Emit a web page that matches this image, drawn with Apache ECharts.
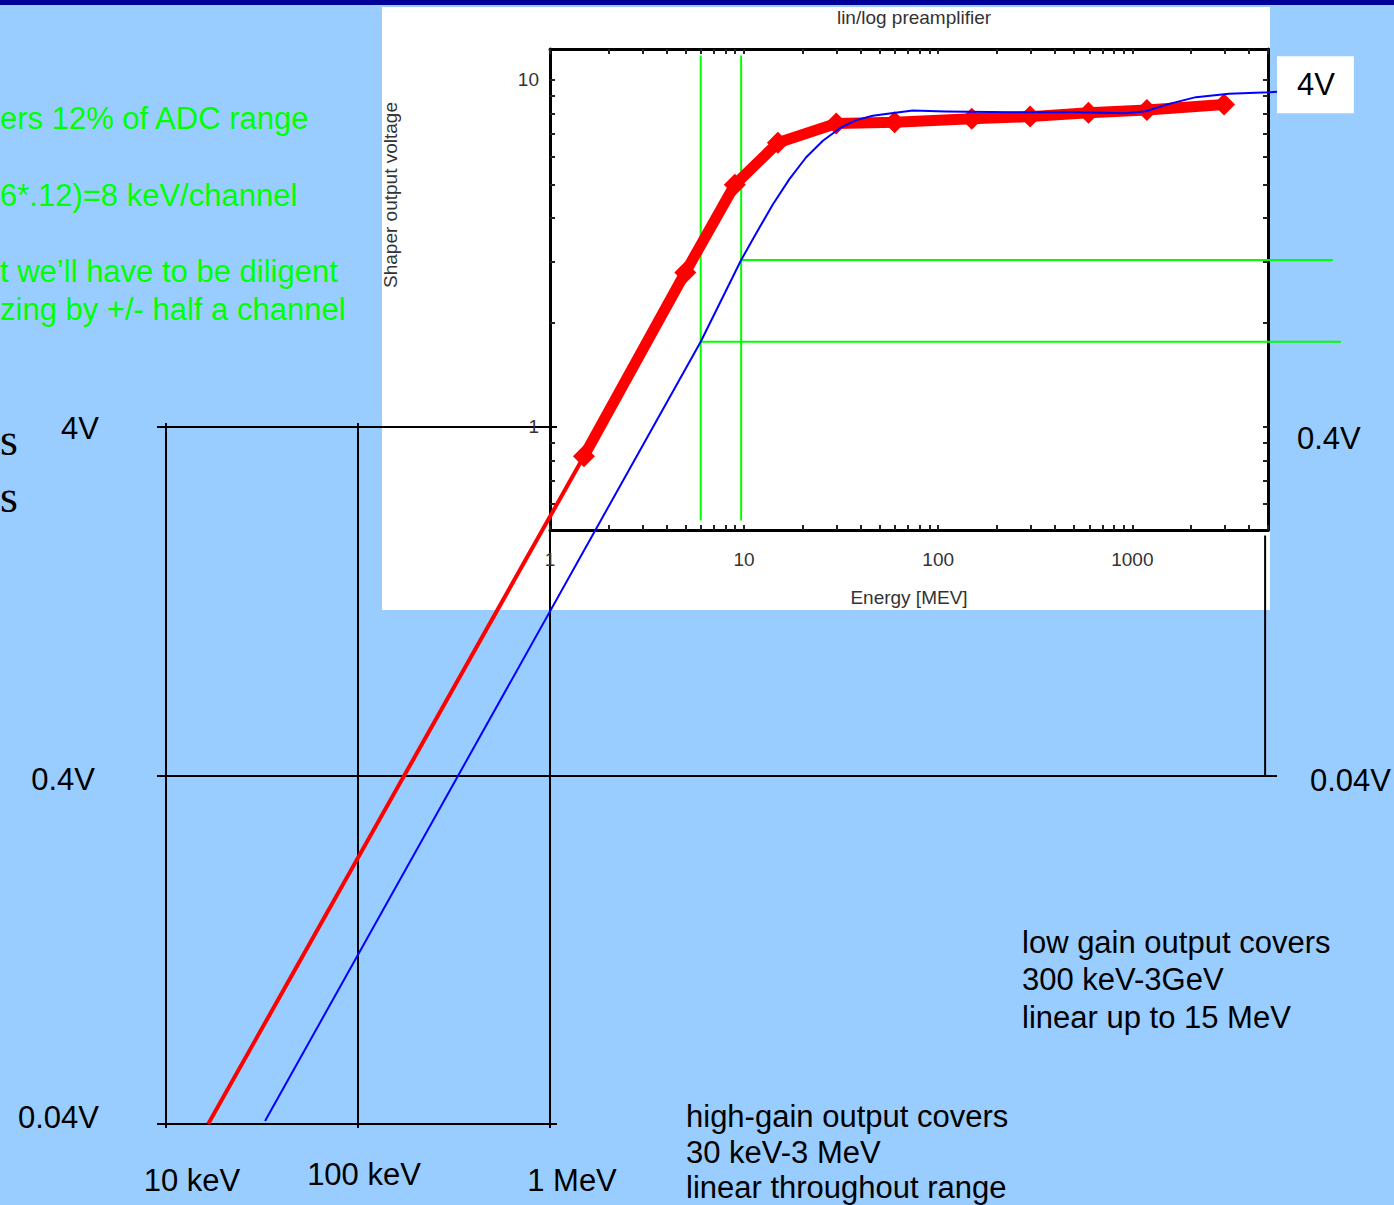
<!DOCTYPE html>
<html><head><meta charset="utf-8">
<script src="https://cdn.jsdelivr.net/npm/echarts@6/dist/echarts.min.js"></script>
<style>html,body{margin:0;padding:0;background:#99ccff;}#c{width:1394px;height:1205px;}</style>
</head><body><div id="c"></div>
<script>
// ---- data (energies in MeV, voltages in inset "shaper output" units; 1 = 4V on the lower scale) ----
const redEnergyMeV = [1.5, 5, 9, 15, 30, 60, 150, 300, 600, 1200, 3000];
const redVoltage   = [0.83, 2.8, 5.0, 6.6, 7.5, 7.56, 7.74, 7.85, 8.05, 8.2, 8.5];
const redExtEnergyMeV = [0.0173, 1.5];
const redExtVoltage   = [0.01, 0.83];
const blueEnergyMeV = [0.034, 6, 9.7, 11.6, 14.1, 17.2, 21, 25.6, 31.2, 38, 46.3, 56.5, 74.5, 110, 243, 538, 936, 1186, 1564, 2148, 3187, 5120, 5630];
const blueVoltage   = [0.0102, 1.77, 3.04, 3.63, 4.38, 5.19, 6.0, 6.69, 7.26, 7.67, 7.90, 8.02, 8.17, 8.12, 8.08, 8.08, 8.03, 8.13, 8.54, 8.93, 9.13, 9.22, 9.25];
const guideEnergyMeV = [6, 9.7];
const guideVoltage   = [1.77, 3.04];
const insetXLabels = ['1', '10', '100', '1000'];
const insetYLabels = ['1', '10'];
const lowerXLabels = ['10 keV', '100 keV', '1 MeV'];
const lowerYLabels = ['0.04V', '0.4V', '4V'];
const rightYLabels = ['0.04V', '0.4V', '4V'];
const logMinorTicks = [];
[1, 10, 100, 1000].forEach(d => { for (let k = 1; k <= 9; k++) logMinorTicks.push(k * d); });
const logMinorTicksY = [0.6, 0.7, 0.8, 0.9, 1, 2, 3, 4, 5, 6, 7, 8, 9, 10];

function decadeIndex(v, base) {
  const l = Math.log10(v), r = Math.round(l);
  if (Math.abs(l - r) > 1e-6) return -1;
  return r - base;
}
const zip = (a, b) => a.map((x, i) => [x, b[i]]);

const FONT = '"Liberation Sans", Arial, Helvetica, sans-serif';
const hidden = {show: false, splitLine: {show: false}};

const chart = echarts.init(document.getElementById('c'), null, {renderer: 'svg'});

const guideSeries = [];
guideEnergyMeV.forEach((e, i) => {
  guideSeries.push({type: 'line', xAxisIndex: 0, yAxisIndex: 0, data: [[e, 0.542], [e, 11.76]],
    symbol: 'none', clip: false, silent: true, z: 2, lineStyle: {color: '#00ff00', width: 2}});
  guideSeries.push({type: 'line', xAxisIndex: 0, yAxisIndex: 0, data: [[e, guideVoltage[i]], [i === 0 ? 12030 : 10940, guideVoltage[i]]],
    symbol: 'none', clip: false, silent: true, z: 2, lineStyle: {color: '#00ff00', width: 2}});
});

const option = {
  animation: false,
  backgroundColor: '#99ccff',
  title: {text: 'lin/log preamplifier', left: 909, top: 3, textAlign: 'center',
    textStyle: {fontFamily: FONT, fontSize: 19, fontWeight: 'normal', color: '#333'}},
  grid: [
    {left: 162, top: 49, width: 1180, height: 1075},
    {left: 550, top: 49, width: 718, height: 481},
    {left: 166, top: 427, width: 384, height: 697}
  ],
  xAxis: [
    Object.assign({type: 'log', gridIndex: 0, min: 0.01, max: 12030}, hidden),
    {type: 'log', gridIndex: 1, min: 1, max: 5000, position: 'bottom',
      name: 'Energy [MEV]', nameLocation: 'middle', nameGap: 58,
      nameTextStyle: {fontFamily: FONT, fontSize: 19, color: '#333'},
      axisLine: {lineStyle: {color: '#000', width: 3}},
      axisTick: {inside: true, length: 5, customValues: logMinorTicks, lineStyle: {color: '#222', width: 2}},
      splitLine: {show: false},
      axisLabel: {margin: 20, fontFamily: FONT, fontSize: 19, color: '#333', showMinLabel: true, showMaxLabel: true,
        formatter: v => { const i = decadeIndex(v, 0); return i >= 0 && i < insetXLabels.length ? insetXLabels[i] : ''; }}},
    {type: 'log', gridIndex: 1, min: 1, max: 5000, position: 'top',
      axisLine: {lineStyle: {color: '#000', width: 3}},
      axisTick: {inside: true, length: 5, customValues: logMinorTicks, lineStyle: {color: '#222', width: 2}},
      axisLabel: {show: false}, splitLine: {show: false}},
    {type: 'log', gridIndex: 2, min: 10, max: 1000, position: 'bottom',
      axisLine: {lineStyle: {color: '#000', width: 2}},
      axisTick: {length: 4, lineStyle: {color: '#000', width: 2}},
      splitLine: {show: true, lineStyle: {color: '#000', width: 2}},
      axisLabel: {margin: 35, fontFamily: FONT, fontSize: 31, color: '#000', showMinLabel: true, showMaxLabel: true,
        formatter: v => { const i = decadeIndex(v, 1); return i >= 0 && i < lowerXLabels.length ? '{x' + i + '|' + lowerXLabels[i] + '}' : ''; },
        rich: {
          x0: {fontFamily: FONT, fontSize: 31, color: '#000', padding: [6, 0, 0, 52]},
          x1: {fontFamily: FONT, fontSize: 31, color: '#000', padding: [0, 0, 0, 12]},
          x2: {fontFamily: FONT, fontSize: 31, color: '#000', padding: [6, 0, 0, 44]}
        }}},
    {type: 'log', gridIndex: 2, min: 10, max: 1000, position: 'top',
      axisLine: {show: false}, axisTick: {length: 4, lineStyle: {color: '#000', width: 2}},
      axisLabel: {show: false}, splitLine: {show: false}}
  ],
  yAxis: [
    Object.assign({type: 'log', gridIndex: 0, min: 0.01, max: 12.28}, hidden),
    {type: 'log', gridIndex: 0, min: 0.00103, max: 1.266, position: 'right', offset: -74,
      axisLine: {show: false}, axisTick: {show: false}, splitLine: {show: false},
      axisLabel: {margin: 10, fontFamily: FONT, fontSize: 31, color: '#000', showMinLabel: true, showMaxLabel: true,
        formatter: v => { const i = decadeIndex(v, -2); return i >= 0 && i < rightYLabels.length ? '{r' + i + '|' + rightYLabels[i] + '}' : ''; },
        rich: {
          r0: {fontFamily: FONT, fontSize: 31, color: '#000', padding: [0, 0, 0, 33]},
          r1: {fontFamily: FONT, fontSize: 31, color: '#000', padding: [12, 0, 0, 20]},
          r2: {fontFamily: FONT, fontSize: 31, color: '#000', lineHeight: 32, backgroundColor: '#fff', padding: [13, 19, 13, 20]}
        }}},
    {type: 'log', gridIndex: 1, min: 0.504, max: 12.28, position: 'left',
      axisLine: {lineStyle: {color: '#000', width: 3}},
      axisTick: {inside: true, length: 5, customValues: logMinorTicksY, lineStyle: {color: '#222', width: 2}},
      splitLine: {show: false},
      axisLabel: {margin: 11, fontFamily: FONT, fontSize: 19, color: '#333',
        formatter: v => { const i = decadeIndex(v, 0); return i >= 0 && i < insetYLabels.length ? insetYLabels[i] : ''; }}},
    {type: 'log', gridIndex: 1, min: 0.504, max: 12.28, position: 'right',
      axisLine: {lineStyle: {color: '#000', width: 3}},
      axisTick: {inside: true, length: 5, customValues: logMinorTicksY, lineStyle: {color: '#222', width: 2}},
      axisLabel: {show: false}, splitLine: {show: false}},
    {type: 'log', gridIndex: 2, min: 0.01, max: 1, position: 'left',
      axisLine: {lineStyle: {color: '#000', width: 2}},
      axisTick: {length: 9, lineStyle: {color: '#000', width: 2}},
      splitLine: {show: true, lineStyle: {color: '#000', width: 2}},
      axisLabel: {margin: 67, fontFamily: FONT, fontSize: 31, color: '#000', showMinLabel: true, showMaxLabel: true,
        formatter: v => { const i = decadeIndex(v, -2); return i >= 0 && i < lowerYLabels.length ? '{y' + i + '|' + lowerYLabels[i] + '}' : ''; },
        rich: {
          y0: {fontFamily: FONT, fontSize: 31, color: '#000', padding: [0, 0, 14, 0]},
          y1: {fontFamily: FONT, fontSize: 31, color: '#000', padding: [8, 4, 0, 0]},
          y2: {fontFamily: FONT, fontSize: 31, color: '#000', padding: [2, 0, 0, 0]}
        }}},
    {type: 'log', gridIndex: 2, min: 0.01, max: 1, position: 'right',
      axisLine: {show: false}, axisTick: {length: 7, lineStyle: {color: '#000', width: 2}},
      axisLabel: {show: false}, splitLine: {show: false}}
  ],
  graphic: [
    {type: 'rect', z: -1, silent: true, shape: {x: 382, y: 7, width: 888, height: 603}, style: {fill: '#ffffff'}},
    {type: 'rect', z: 10, silent: true, shape: {x: 0, y: 0, width: 1394, height: 5}, style: {fill: '#000099'}},
    {type: 'text', x: 390, y: 195, rotation: Math.PI / 2, silent: true,
      style: {text: 'Shaper output voltage', font: '19px ' + FONT, fill: '#333', textAlign: 'center', textVerticalAlign: 'middle'}},
    {type: 'text', x: 0, y: 118, silent: true, style: {text: 'ers 12% of ADC range', font: '31px ' + FONT, fill: '#00ff00', textAlign: 'left', textVerticalAlign: 'middle'}},
    {type: 'text', x: 0, y: 195, silent: true, style: {text: '6*.12)=8 keV/channel', font: '31px ' + FONT, fill: '#00ff00', textAlign: 'left', textVerticalAlign: 'middle'}},
    {type: 'text', x: 0, y: 271, silent: true, style: {text: 't we\u2019ll have to be diligent', font: '31px ' + FONT, fill: '#00ff00', textAlign: 'left', textVerticalAlign: 'middle'}},
    {type: 'text', x: 0, y: 309, silent: true, style: {text: 'zing by +/- half a channel', font: '31px ' + FONT, fill: '#00ff00', textAlign: 'left', textVerticalAlign: 'middle'}},
    {type: 'text', x: 0, y: 439, silent: true, style: {text: 's', font: '46px "Liberation Serif", "Times New Roman", serif', fill: '#000', textAlign: 'left', textVerticalAlign: 'middle'}},
    {type: 'text', x: 0, y: 496, silent: true, style: {text: 's', font: '46px "Liberation Serif", "Times New Roman", serif', fill: '#000', textAlign: 'left', textVerticalAlign: 'middle'}},
    {type: 'text', x: 1022, y: 942, silent: true, style: {text: 'low gain output covers', font: '31px ' + FONT, fill: '#000', textAlign: 'left', textVerticalAlign: 'middle'}},
    {type: 'text', x: 1022, y: 979, silent: true, style: {text: '300 keV-3GeV', font: '31px ' + FONT, fill: '#000', textAlign: 'left', textVerticalAlign: 'middle'}},
    {type: 'text', x: 1022, y: 1017, silent: true, style: {text: 'linear up to 15 MeV', font: '31px ' + FONT, fill: '#000', textAlign: 'left', textVerticalAlign: 'middle'}},
    {type: 'text', x: 686, y: 1116, silent: true, style: {text: 'high-gain output covers', font: '31px ' + FONT, fill: '#000', textAlign: 'left', textVerticalAlign: 'middle'}},
    {type: 'text', x: 686, y: 1152, silent: true, style: {text: '30 keV-3 MeV', font: '31px ' + FONT, fill: '#000', textAlign: 'left', textVerticalAlign: 'middle'}},
    {type: 'text', x: 686, y: 1187, silent: true, style: {text: 'linear throughout range', font: '31px ' + FONT, fill: '#000', textAlign: 'left', textVerticalAlign: 'middle'}}
  ],
  series: guideSeries.concat([
    {type: 'line', xAxisIndex: 0, yAxisIndex: 0, data: [[1, 0.1], [5630, 0.1]], symbol: 'none', clip: false, silent: true, z: 2,
      lineStyle: {color: '#000', width: 2}},
    {type: 'line', xAxisIndex: 0, yAxisIndex: 0, data: [[4886, 0.1], [4886, 0.491]], symbol: 'none', clip: false, silent: true, z: 2,
      lineStyle: {color: '#000', width: 2}},
    {type: 'line', xAxisIndex: 0, yAxisIndex: 0, data: zip(redExtEnergyMeV, redExtVoltage), symbol: 'none', clip: false, z: 3,
      lineStyle: {color: '#ff0000', width: 4}},
    {type: 'line', xAxisIndex: 0, yAxisIndex: 0, data: zip(redEnergyMeV, redVoltage), symbol: 'diamond', symbolSize: 22, clip: false, z: 4,
      itemStyle: {color: '#ff0000', borderWidth: 0}, lineStyle: {color: '#ff0000', width: 11, cap: 'round', join: 'round'}},
    {type: 'line', xAxisIndex: 0, yAxisIndex: 0, data: zip(blueEnergyMeV, blueVoltage), symbol: 'none', clip: false, z: 5,
      smooth: false, lineStyle: {color: '#0000ff', width: 2, join: 'round'}}
  ])
};
chart.setOption(option);
</script>
</body></html>
